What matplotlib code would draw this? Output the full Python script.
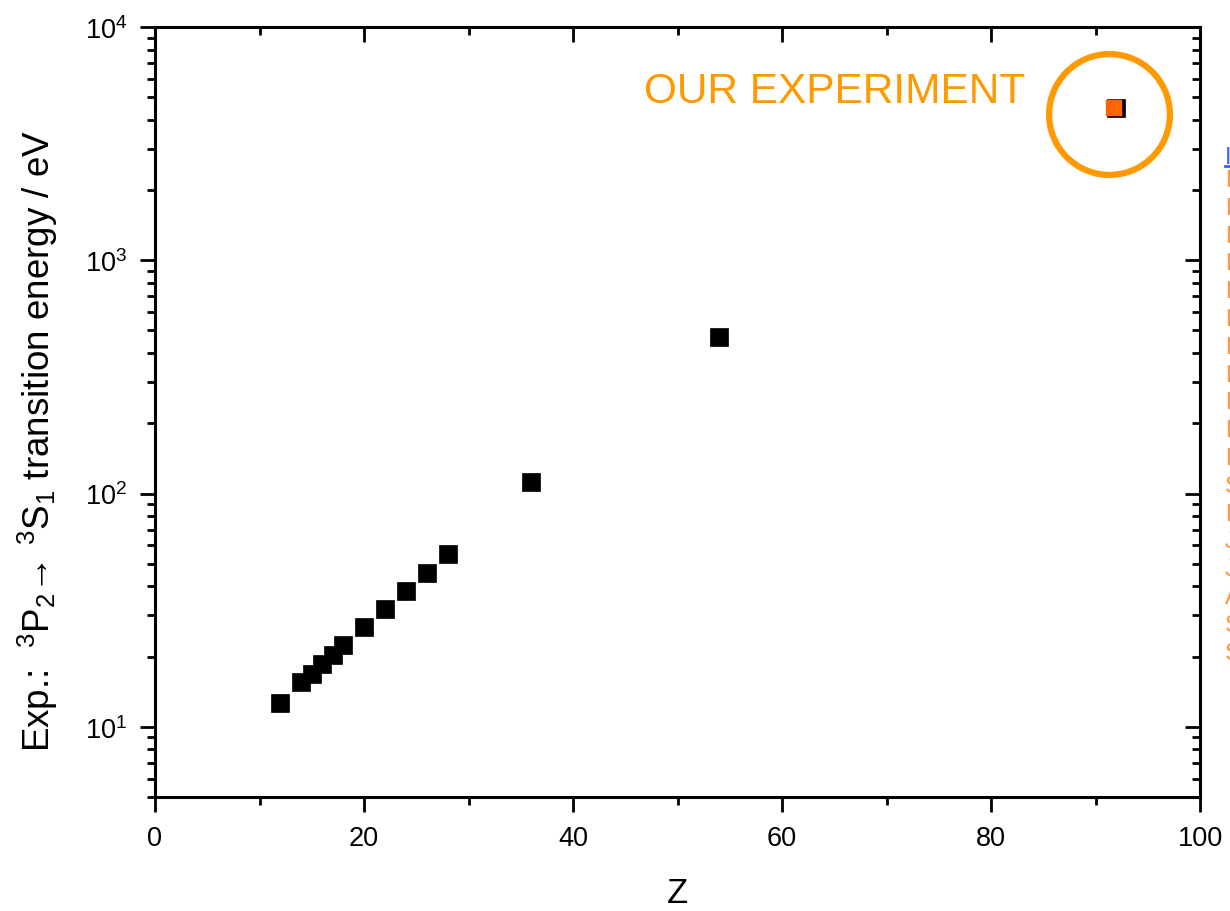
import matplotlib
matplotlib.use('Agg')
import matplotlib.pyplot as plt
from matplotlib.ticker import LogLocator, MultipleLocator, LogFormatterSciNotation, NullFormatter

plt.rcParams['font.family'] = ['Liberation Sans', 'DejaVu Sans']
plt.rcParams['mathtext.default'] = 'regular'

# ---- data ----
Z = [12, 14, 15, 16, 17, 18, 20, 22, 24, 26, 28, 36, 54, 92]
E = [12.6, 15.5, 16.9, 18.6, 20.4, 22.5, 26.9, 32.1, 38.3, 45.8, 55.2, 111.5, 468, 4510]
our_Z = [91.8]
our_E = [4510]
circle_Z = [91.3]
circle_E = [4240]
note_text = 'OUR EXPERIMENT'
note_Z = 83.3
note_E = 5310
xticks_major = [0, 20, 40, 60, 80, 100]
side_letters = ['F', 'F', 'D', 'F', 'D', 'D', 'F', 'F', 'F', 'F', 'K', 'S', 'E', 'J', 'J', 'A', 'S', 'S']

W, H = 1230, 912
fig = plt.figure(figsize=(W / 100, H / 100), dpi=100)
ax = fig.add_axes([155 / W, 1 - 798 / H, 1045 / W, 770 / H])
ax.set_yscale('log')
ax.set_xlim(0, 100)
ax.set_ylim(5, 1e4)

ax.plot(Z, E, 's', ms=12.3, color='black', mec='black', mew=0.5, zorder=3)
ax.plot(our_Z, our_E, 's', ms=11.5, color='#FF6600', mec='#FF6600', mew=0.3, zorder=4)
ax.plot(circle_Z, circle_E, 'o', ms=87, mfc='none', mec='#FF9900', mew=4.5, clip_on=False, zorder=5)
ax.text(note_Z, note_E, note_text, color='#FF9900', fontsize=30.5, ha='right', va='center')

ax.set_xticks(xticks_major)
ax.xaxis.set_minor_locator(MultipleLocator(10))
ax.yaxis.set_major_locator(LogLocator(base=10, numticks=10))
ax.yaxis.set_minor_locator(LogLocator(base=10, subs=range(2, 10), numticks=20))
ax.yaxis.set_major_formatter(LogFormatterSciNotation())
ax.yaxis.set_minor_formatter(NullFormatter())

for s in ax.spines.values():
    s.set_linewidth(2.2)
ax.tick_params(which='both', direction='out', top=False, right=False, width=2, colors='black',
               labelsize=19.5)
ax.tick_params(which='major', length=11, pad=9)
ax.tick_params(which='minor', length=6)

ov = fig.add_axes(ax.get_position(), sharex=ax, sharey=ax, frameon=False)
ov.patch.set_visible(False)
ov.tick_params(which='both', direction='in', left=False, bottom=False, top=True, right=True,
               labelleft=False, labelbottom=False, labeltop=False, labelright=False, width=2)
ov.tick_params(which='major', length=11)
ov.tick_params(which='minor', length=6)

ax.set_xlabel('Z', fontsize=25, labelpad=18)
ax.set_ylabel('Exp.:  $^{3}$P$_{2}$\u2192 $^{3}$S$_{1}$ transition energy / eV', fontsize=26.5)
ax.yaxis.set_label_coords(-0.091, 0.4636)

# cut-off slide text at the right edge (as in the reference)
fig.text(1225 / W, 1 - 158 / H, 'I', color='#3366FF', fontsize=17, ha='left', va='center')
fig.add_artist(plt.Line2D([1225 / W, 1.0], [1 - 167 / H, 1 - 167 / H], color='#3366FF', lw=2))
for i, ch in enumerate(side_letters):
    y = 181 + i * 27.8
    fig.text(1225 / W, 1 - y / H, ch, color='#FF9933', fontsize=17, ha='left', va='center')

fig.savefig('out.png', dpi=100)
